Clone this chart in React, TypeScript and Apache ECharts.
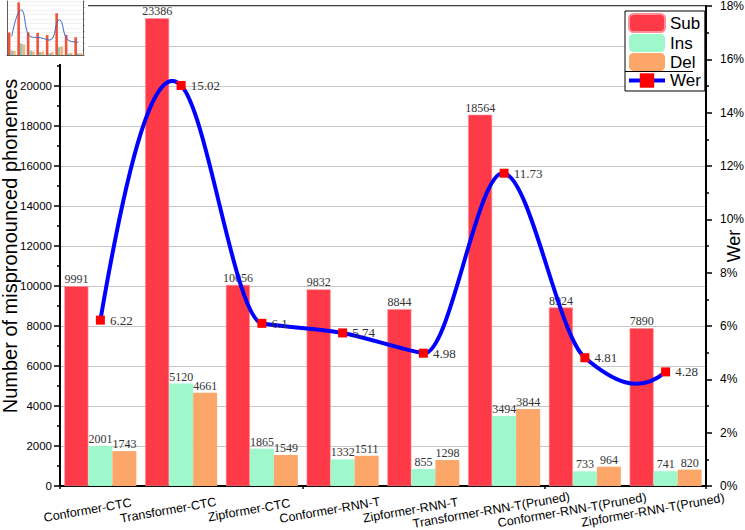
import React, { useEffect, useRef } from 'react';
import * as echarts from 'echarts';

const categories = [
  'Conformer-CTC',
  'Transformer-CTC',
  'Zipformer-CTC',
  'Conformer-RNN-T',
  'Zipformer-RNN-T',
  'Transformer-RNN-T(Pruned)',
  'Conformer-RNN-T(Pruned)',
  'Zipformer-RNN-T(Pruned)',
];
const sub = [9991, 23386, 10056, 9832, 8844, 18564, 8924, 7890];
const ins = [2001, 5120, 1865, 1332, 855, 3494, 733, 741];
const del = [1743, 4661, 1549, 1511, 1298, 3844, 964, 820];
const wer = [6.22, 15.02, 6.1, 5.74, 4.98, 11.73, 4.81, 4.28];

const SUB_COLOR = '#ff3a48';
const INS_COLOR = '#9ef8cb';
const DEL_COLOR = '#fda66a';
const LINE_COLOR = '#0000ff';
const MARK_COLOR = '#ff0000';
const SANS = "'Liberation Sans', Arial, sans-serif";
const SERIF = "'Liberation Serif', 'DejaVu Serif', serif";

// Akima tangents in pixel space
function akimaTangents(xs: number[], ys: number[]): number[] {
  const n = xs.length;
  const m: number[] = [];
  for (let i = 0; i < n - 1; i++) m[i + 2] = (ys[i + 1] - ys[i]) / (xs[i + 1] - xs[i]);
  m[1] = 2 * m[2] - m[3];
  m[0] = 2 * m[1] - m[2];
  m[n + 1] = 2 * m[n] - m[n - 1];
  m[n + 2] = 2 * m[n + 1] - m[n];
  const t: number[] = [];
  for (let i = 0; i < n; i++) {
    const w1 = Math.abs(m[i + 3] - m[i + 2]);
    const w2 = Math.abs(m[i + 1] - m[i]);
    t[i] = w1 + w2 < 1e-9 ? (m[i + 1] + m[i + 2]) / 2 : (w1 * m[i + 1] + w2 * m[i + 2]) / (w1 + w2);
  }
  return t;
}

function curvePath(pts: number[][]): string {
  const xs = pts.map((p) => p[0]);
  const ys = pts.map((p) => p[1]);
  const t = akimaTangents(xs, ys);
  let d = `M${xs[0]},${ys[0]}`;
  for (let i = 0; i < pts.length - 1; i++) {
    const dx = xs[i + 1] - xs[i];
    d += ` C${xs[i] + dx / 3},${ys[i] + (t[i] * dx) / 3} ${xs[i + 1] - dx / 3},${ys[i + 1] - (t[i + 1] * dx) / 3} ${xs[i + 1]},${ys[i + 1]}`;
  }
  return d;
}

export default function App() {
  const ref = useRef<HTMLDivElement>(null);
  useEffect(() => {
    if (!ref.current) return;
    const chart = echarts.init(ref.current, null, { renderer: 'svg' });
    const barLabel = {
      show: true,
      position: 'top',
      distance: 1,
      fontFamily: SERIF,
      fontSize: 12,
      color: '#333',
    };
    const option: any = {
      animation: false,
      backgroundColor: '#fff',
      grid: [
        {
          left: 60,
          right: 39,
          top: 6,
          bottom: 44,
          show: true,
          borderColor: '#000',
          borderWidth: 1.5,
          backgroundColor: 'transparent',
          outerBoundsMode: 'none',
          containLabel: false,
        },
        { left: 7, top: 1, width: 76, height: 54, outerBoundsMode: 'none', containLabel: false },
      ],
      legend: {
        orient: 'vertical',
        left: 625,
        top: 11,
        padding: [2, 4, 2, 2],
        itemGap: 1,
        itemWidth: 36,
        itemHeight: 18,
        borderColor: '#000',
        borderWidth: 1,
        backgroundColor: '#fff',
        textStyle: { fontFamily: SANS, fontSize: 17, color: '#000' },
        data: [
          { name: 'Sub' },
          { name: 'Ins' },
          { name: 'Del' },
          { name: 'Wer', lineStyle: { color: LINE_COLOR, width: 4, opacity: 1 } },
        ],
      },
      xAxis: [
        {
          type: 'category',
          gridIndex: 0,
          data: categories,
          boundaryGap: true,
          axisLine: { lineStyle: { color: '#000', width: 2 } },
          axisTick: { alignWithLabel: true, length: 6, lineStyle: { color: '#000', width: 1.5 } },
          axisLabel: {
            interval: 0,
            rotate: 10,
            align: 'center',
            verticalAlign: 'middle',
            margin: 22,
            padding: [0, 26, 0, 0],
            fontFamily: SANS,
            fontSize: 12.5,
            color: '#000',
          },
          splitLine: { show: false },
        },
        {
          type: 'category',
          gridIndex: 0,
          position: 'bottom',
          data: categories,
          boundaryGap: true,
          axisLine: { show: false },
          axisTick: { show: true, length: 3, lineStyle: { color: '#000', width: 1.5 } },
          axisLabel: { show: false },
          splitLine: { show: false },
        },
        {
          type: 'category',
          gridIndex: 1,
          data: categories,
          z: 12,
          axisLine: { lineStyle: { color: '#333', width: 0.8 } },
          axisTick: { show: false },
          axisLabel: { show: false },
        },
      ],
      yAxis: [
        {
          type: 'value',
          gridIndex: 0,
          min: 0,
          max: 24000,
          interval: 2000,
          name: 'Number of mispronounced phonemes',
          nameLocation: 'middle',
          nameGap: 40,
          nameRotate: 90,
          nameMoveOverlap: false,
          nameTextStyle: { fontFamily: SANS, fontSize: 20, color: '#000' },
          axisLine: { show: true, lineStyle: { color: '#000', width: 2 } },
          axisTick: { show: true, length: 6, lineStyle: { color: '#000', width: 1.5 } },
          minorTick: { show: true, splitNumber: 2, length: 3, lineStyle: { color: '#000', width: 1.5 } },
          splitLine: { show: true, lineStyle: { color: '#c8c8c8', width: 1 } },
          axisLabel: {
            margin: 8,
            fontFamily: SANS,
            fontSize: 11.5,
            color: '#000',
            formatter: (v: number) => (v <= 20000 ? String(v) : ''),
          },
        },
        {
          type: 'value',
          gridIndex: 0,
          position: 'right',
          min: 0,
          max: 18,
          interval: 2,
          name: 'Wer',
          nameLocation: 'middle',
          nameGap: 19,
          nameRotate: 90,
          nameMoveOverlap: false,
          nameTextStyle: { fontFamily: SANS, fontSize: 18, color: '#000' },
          axisLine: { show: true, lineStyle: { color: '#000', width: 2 } },
          axisTick: { show: true, length: 6, lineStyle: { color: '#000', width: 1.5 } },
          minorTick: { show: true, splitNumber: 2, length: 3, lineStyle: { color: '#000', width: 1.5 } },
          splitLine: { show: false },
          axisLabel: { margin: 14, fontFamily: SANS, fontSize: 12, color: '#000', formatter: '{value}%' },
        },
        {
          type: 'value',
          gridIndex: 1,
          min: 0,
          max: 24000,
          interval: 2000,
          z: 12,
          axisLine: { show: true, lineStyle: { color: '#333', width: 0.8 } },
          axisTick: { show: false },
          axisLabel: { show: false },
          splitLine: { show: true, lineStyle: { color: '#e4e4e4', width: 0.5 } },
        },
        {
          type: 'value',
          gridIndex: 1,
          position: 'right',
          min: 0,
          max: 18,
          interval: 2,
          z: 12,
          axisLine: { show: true, lineStyle: { color: '#333', width: 0.8 } },
          axisTick: { show: true, length: 1.5, lineStyle: { color: '#333', width: 0.5 } },
          axisLabel: { show: false },
          splitLine: { show: false },
        },
      ],
      graphic: [
        {
          type: 'rect',
          z: 10,
          shape: { x: 0, y: 0, width: 88, height: 64 },
          style: { fill: '#fff' },
        },
        {
          type: 'line',
          z: 10,
          shape: { x1: 625, y1: 71.5, x2: 693, y2: 71.5 },
          style: { stroke: '#000', lineWidth: 1 },
        },
      ],
      series: [
        {
          name: 'Sub',
          type: 'bar',
          xAxisIndex: 0,
          yAxisIndex: 0,
          data: sub,
          barWidth: 24,
          barGap: '0%',
          itemStyle: { color: SUB_COLOR, borderColor: '#ff8f96', borderWidth: 0.6 },
          label: barLabel,
        },
        {
          name: 'Ins',
          type: 'bar',
          xAxisIndex: 0,
          yAxisIndex: 0,
          data: ins,
          barWidth: 24,
          barGap: '0%',
          itemStyle: { color: INS_COLOR },
          label: barLabel,
        },
        {
          name: 'Del',
          type: 'bar',
          xAxisIndex: 0,
          yAxisIndex: 0,
          data: del,
          barWidth: 24,
          barGap: '0%',
          itemStyle: { color: DEL_COLOR },
          label: barLabel,
        },
        {
          name: 'WerCurve',
          type: 'custom',
          xAxisIndex: 0,
          yAxisIndex: 1,
          z: 3,
          data: wer.map((v, i) => [i, v]),
          encode: { x: 0, y: 1 },
          renderItem: (params: any, api: any) => {
            if (params.dataIndex !== 0) return { type: 'group', children: [] };
            const pts = wer.map((v, i) => api.coord([i, v]));
            return {
              type: 'path',
              shape: { pathData: curvePath(pts) },
              style: { stroke: LINE_COLOR, lineWidth: 4, fill: 'none', lineJoin: 'round', lineCap: 'round' },
            };
          },
        },
        {
          name: 'Wer',
          type: 'line',
          xAxisIndex: 0,
          yAxisIndex: 1,
          z: 4,
          data: wer,
          symbol: 'rect',
          symbolSize: 9,
          itemStyle: { color: MARK_COLOR },
          lineStyle: { color: LINE_COLOR, width: 4, opacity: 0 },
          label: {
            show: true,
            position: 'right',
            distance: 5,
            fontFamily: SERIF,
            fontSize: 13,
            color: '#333',
          },
        },
        // thumbnail
        {
          name: 'mSub',
          type: 'bar',
          xAxisIndex: 2,
          yAxisIndex: 2,
          z: 12,
          data: sub,
          barWidth: 2.6,
          barGap: '0%',
          itemStyle: { color: '#f0523a' },
        },
        {
          name: 'mIns',
          type: 'bar',
          xAxisIndex: 2,
          yAxisIndex: 2,
          z: 12,
          data: ins,
          barWidth: 2.6,
          barGap: '0%',
          itemStyle: { color: '#8fc9b4' },
        },
        {
          name: 'mDel',
          type: 'bar',
          xAxisIndex: 2,
          yAxisIndex: 2,
          z: 12,
          data: del,
          barWidth: 2.6,
          barGap: '0%',
          itemStyle: { color: '#f4b37a' },
        },
        {
          name: 'mWer',
          type: 'line',
          xAxisIndex: 2,
          yAxisIndex: 3,
          z: 13,
          data: wer,
          smooth: 0.5,
          symbol: 'none',
          lineStyle: { color: '#3a66c8', width: 1 },
        },
      ],
    };
    chart.setOption(option);
    return () => chart.dispose();
  }, []);
  return <div ref={ref} style={{ width: 745, height: 530, position: 'absolute', left: 0, top: 0 }} />;
}
